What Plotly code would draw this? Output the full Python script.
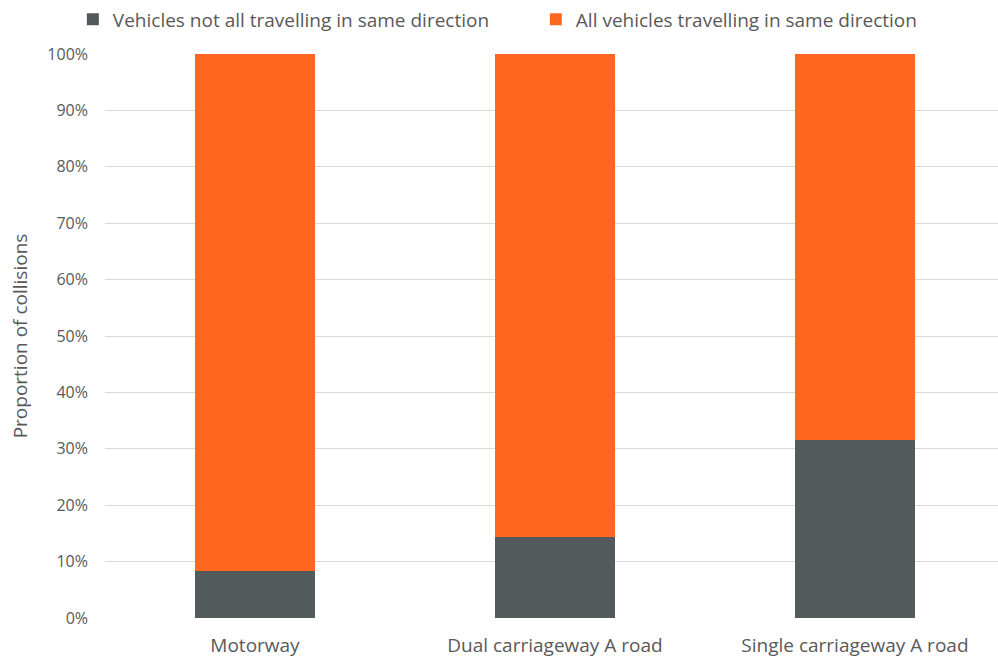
import plotly.graph_objects as go

categories = ["Motorway", "Dual carriageway A road", "Single carriageway A road"]
not_same = [8.3, 14.4, 31.6]
same = [91.7, 85.6, 68.4]
series_names = ["Vehicles not all travelling in same direction", "All vehicles travelling in same direction"]
tick_vals = [0, 10, 20, 30, 40, 50, 60, 70, 80, 90, 100]
tick_text = [f"{v}%" for v in tick_vals]

font_fam = "Open Sans, Calibri, sans-serif"
grey = "#595959"

fig = go.Figure()
fig.add_trace(go.Bar(x=categories, y=not_same, name=series_names[0],
                     marker=dict(color="#525a5c", line=dict(width=0)), width=0.4))
fig.add_trace(go.Bar(x=categories, y=same, name=series_names[1],
                     marker=dict(color="#ff6720", line=dict(width=0)), width=0.4))

fig.update_layout(
    barmode="stack",
    width=998, height=659,
    margin=dict(l=105, r=0, t=54, b=41, autoexpand=False),
    plot_bgcolor="white", paper_bgcolor="white",
    font=dict(family=font_fam, size=19, color=grey),
    showlegend=True,
    legend=dict(orientation="h", x=-0.036, xanchor="left", y=1.095, yanchor="top",
                font=dict(size=19, color=grey),
                traceorder="normal", itemwidth=30, entrywidth=418, entrywidthmode="pixels",
                bgcolor="rgba(0,0,0,0)"),
    xaxis=dict(range=[-0.5, 2.477], showgrid=False, showline=False, zeroline=False,
               tickfont=dict(size=19, color=grey), ticks="", ticklabelstandoff=14),
    yaxis=dict(range=[0, 100], tickvals=tick_vals, ticktext=tick_text,
               showgrid=True, gridcolor="#d9d9d9", gridwidth=1, zeroline=False,
               showline=False, ticks="", ticklen=0, ticklabelstandoff=16,
               tickfont=dict(size=16, color=grey),
               title=dict(text="Proportion of collisions", font=dict(size=19, color=grey), standoff=14)),
)

fig.write_html("out.html")
